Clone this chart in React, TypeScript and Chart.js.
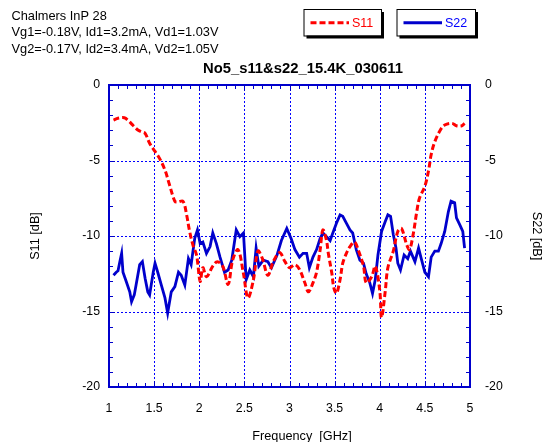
import React, { useEffect, useRef } from "react";
import { Chart, registerables } from "chart.js";

Chart.register(...registerables);

const s11Freq = [
  1.05, 1.1, 1.17, 1.22, 1.27, 1.32, 1.36, 1.4, 1.45, 1.51, 1.56, 1.62, 1.67, 1.73, 1.76, 1.82, 1.86, 1.89,
  1.93, 1.97, 2.01, 2.04, 2.08, 2.15, 2.2, 2.26, 2.32, 2.37, 2.43, 2.49, 2.54, 2.6, 2.65, 2.7, 2.76, 2.82,
  2.89, 2.95, 3.0, 3.06, 3.11, 3.17, 3.21, 3.26, 3.3, 3.34, 3.37, 3.41, 3.43, 3.47, 3.49, 3.52, 3.56, 3.59,
  3.63, 3.67, 3.72, 3.76, 3.82, 3.85, 3.91, 3.95, 4.0, 4.02, 4.06, 4.09, 4.15, 4.2, 4.24, 4.3, 4.33, 4.37,
  4.41, 4.44, 4.5, 4.54, 4.57, 4.61, 4.67, 4.72, 4.8, 4.85, 4.91, 4.94,
];
const s11Db = [
  -2.32, -2.2, -2.17, -2.4, -2.7, -2.98, -3.1, -3.2, -3.86, -4.4, -4.86, -5.63, -6.6, -7.7, -7.75, -7.7, -8.6, -9.6,
  -10.6, -11.26, -13.0, -12.1, -12.7, -12.0, -11.7, -12.0, -13.2, -11.6, -10.9, -12.5, -14.1, -12.9, -11.0, -11.5, -12.6, -11.7,
  -11.1, -11.7, -12.1, -11.9, -12.2, -13.1, -13.7, -13.1, -12.4, -10.9, -9.6, -10.3, -11.15, -12.5, -13.4, -13.8, -12.9, -11.8,
  -11.15, -10.7, -10.4, -10.9, -12.0, -13.1, -12.7, -12.0, -13.6, -15.4, -13.7, -12.1, -11.0, -9.7, -9.5, -10.6, -10.9, -9.9,
  -8.4, -7.5, -6.7, -5.7, -4.6, -3.75, -3.0, -2.65, -2.54, -2.7, -2.7, -2.54,
];

const s22Freq = [
  1.05, 1.08, 1.1, 1.12, 1.14, 1.155, 1.19, 1.23, 1.25, 1.28, 1.3, 1.34, 1.37, 1.4, 1.43, 1.45, 1.49, 1.51,
  1.54, 1.58, 1.62, 1.65, 1.69, 1.73, 1.77, 1.8, 1.84, 1.88, 1.91, 1.95, 1.98, 2.01, 2.04, 2.08, 2.12, 2.15,
  2.19, 2.23, 2.28, 2.32, 2.36, 2.41, 2.45, 2.49, 2.52, 2.56, 2.6, 2.63, 2.66, 2.71, 2.76, 2.8, 2.86, 2.91,
  2.97, 3.02, 3.06, 3.11, 3.15, 3.19, 3.22, 3.26, 3.3, 3.34, 3.37, 3.41, 3.45, 3.48, 3.52, 3.56, 3.59, 3.63,
  3.67, 3.7, 3.74, 3.78, 3.82, 3.85, 3.89, 3.92, 3.95, 3.98, 4.02, 4.06, 4.09, 4.12, 4.15, 4.18, 4.2, 4.23,
  4.27, 4.31, 4.34, 4.39, 4.43, 4.46, 4.5, 4.54, 4.57, 4.61, 4.65, 4.68, 4.72, 4.76, 4.79, 4.83, 4.85, 4.89,
  4.92, 4.94,
];
const s22Db = [
  -12.6, -12.4, -12.3, -11.7, -11.15, -12.4, -13.0, -13.7, -14.35, -13.9, -13.25, -11.9, -11.7, -12.8, -13.7, -13.9, -12.4, -11.8,
  -12.4, -13.25, -14.1, -15.1, -13.7, -13.35, -12.4, -12.6, -13.25, -11.5, -11.9, -10.15, -9.6, -10.5, -10.4, -11.15, -10.7, -9.8,
  -10.5, -11.4, -12.4, -12.25, -11.6, -9.6, -10.05, -9.8, -12.9, -12.25, -12.7, -10.8, -12.0, -11.6, -11.7, -12.1, -11.3, -10.3,
  -9.5, -10.2, -10.9, -11.4, -11.15, -11.15, -12.1, -11.4, -10.9, -10.15, -9.8, -10.05, -10.3, -9.8, -9.15, -8.6, -8.7, -9.15,
  -9.6, -9.8, -10.9, -11.6, -11.8, -12.5, -13.1, -13.8, -12.9, -11.26, -9.7, -9.05, -8.6, -8.7, -9.9, -10.8, -11.8, -12.25,
  -11.26, -11.5, -11.0, -11.7, -10.8, -11.5, -12.4, -12.7, -11.4, -11.0, -11.0, -10.5, -9.7, -8.4, -7.7, -7.8, -8.8, -9.3,
  -9.7, -10.8,
];

const xGridValues = [1.5, 2, 2.5, 3, 3.5, 4, 4.5];
const yGridValues = [-5, -10, -15];
const headerLines = [
  "Chalmers InP 28",
  "Vg1=-0.18V, Id1=3.2mA, Vd1=1.03V",
  "Vg2=-0.17V, Id2=3.4mA, Vd2=1.05V",
];
const chartTitle = "No5_s11&s22_15.4K_030611";
const xTitle = "Frequency  [GHz]";
const yTitle = "S11 [dB]";
const y2Title = "S22 [dB]";
const seriesNames = ["S11", "S22"];

const FONT = "'Liberation Sans', Arial, sans-serif";
const AXIS_BLUE = "#0000cc";
const GRID_BLUE = "#0000ff";

const decorPlugin = {
  id: "decor",
  beforeDatasetsDraw(chart: any) {
    const { ctx, chartArea: a, scales } = chart;
    const xs = scales.x;
    const ys = scales.y;
    ctx.save();
    ctx.strokeStyle = GRID_BLUE;
    ctx.lineWidth = 1;
    ctx.setLineDash([2, 2]);
    for (const v of xGridValues) {
      const px = Math.round(xs.getPixelForValue(v)) + 0.5;
      ctx.beginPath();
      ctx.moveTo(px, a.top);
      ctx.lineTo(px, a.bottom);
      ctx.stroke();
    }
    for (const v of yGridValues) {
      const py = Math.round(ys.getPixelForValue(v)) + 0.5;
      ctx.beginPath();
      ctx.moveTo(a.left, py);
      ctx.lineTo(a.right, py);
      ctx.stroke();
    }
    ctx.restore();
  },
  afterDraw(chart: any) {
    const { ctx, chartArea: a, scales } = chart;
    const xs = scales.x;
    const ys = scales.y;
    ctx.save();
    // frame
    ctx.strokeStyle = AXIS_BLUE;
    ctx.lineWidth = 2;
    ctx.setLineDash([]);
    ctx.strokeRect(a.left, a.top, a.right - a.left, a.bottom - a.top);
    // minor ticks
    ctx.lineWidth = 1;
    for (let i = 0; i <= 40; i++) {
      const v = 1 + i * 0.1;
      const px = Math.round(xs.getPixelForValue(v)) + 0.5;
      const len = i % 5 === 0 ? 6 : 4;
      ctx.beginPath();
      ctx.moveTo(px, a.bottom);
      ctx.lineTo(px, a.bottom - len);
      ctx.moveTo(px, a.top);
      ctx.lineTo(px, a.top + len);
      ctx.stroke();
    }
    for (let i = 0; i <= 20; i++) {
      const v = -i;
      const py = Math.round(ys.getPixelForValue(v)) + 0.5;
      const len = i % 5 === 0 ? 6 : 4;
      ctx.beginPath();
      ctx.moveTo(a.left, py);
      ctx.lineTo(a.left + len, py);
      ctx.moveTo(a.right, py);
      ctx.lineTo(a.right - len, py);
      ctx.stroke();
    }

    // header text
    ctx.fillStyle = "#000";
    ctx.font = `12.8px ${FONT}`;
    ctx.textAlign = "left";
    ctx.textBaseline = "middle";
    headerLines.forEach((t, i) => ctx.fillText(t, 11.5, 16 + i * 16.5));

    // title
    ctx.font = `bold 14.8px ${FONT}`;
    ctx.textAlign = "center";
    ctx.fillText(chartTitle, 303, 69);

    // axis titles
    ctx.font = `12.7px ${FONT}`;
    ctx.fillText(xTitle, 302, 436);
    const midY = (a.top + a.bottom) / 2;
    ctx.save();
    ctx.translate(35, midY);
    ctx.rotate(-Math.PI / 2);
    ctx.fillText(yTitle, 0, 0);
    ctx.restore();
    ctx.save();
    ctx.translate(536.5, midY);
    ctx.rotate(Math.PI / 2);
    ctx.fillText(y2Title, 0, 0);
    ctx.restore();

    // legend boxes
    const boxes = [
      { x: 303.5, y: 9, w: 77.5, h: 26.5 },
      { x: 396.5, y: 9, w: 78.5, h: 26.5 },
    ];
    chart.data.datasets.forEach((ds: any, i: number) => {
      const b = boxes[i];
      ctx.fillStyle = "#000";
      ctx.fillRect(b.x + 3, b.y + 3, b.w, b.h);
      ctx.fillStyle = "#fff";
      ctx.fillRect(b.x, b.y, b.w, b.h);
      ctx.strokeStyle = "#000";
      ctx.lineWidth = 1;
      ctx.setLineDash([]);
      ctx.strokeRect(b.x + 0.5, b.y + 0.5, b.w, b.h);
      const ly = b.y + b.h / 2 + 0.5;
      ctx.strokeStyle = ds.borderColor;
      ctx.lineWidth = 3;
      ctx.setLineDash(ds.borderDash || []);
      ctx.beginPath();
      ctx.moveTo(b.x + 7, ly);
      ctx.lineTo(b.x + 45.5, ly);
      ctx.stroke();
      ctx.setLineDash([]);
      ctx.fillStyle = ds.legendTextColor;
      ctx.font = `12.5px ${FONT}`;
      ctx.textAlign = "left";
      ctx.textBaseline = "middle";
      ctx.fillText(ds.label, b.x + 48.5, ly + 0.5);
    });
    ctx.restore();
  },
};

export default function App() {
  const canvasRef = useRef<HTMLCanvasElement | null>(null);

  useEffect(() => {
    document.body.style.margin = "0";
    const canvas = canvasRef.current;
    if (!canvas) return;
    const tickFont = { family: FONT, size: 12.3 };
    const fmt = (v: any) => String(Number(v));
    const chart = new Chart(canvas, {
      type: "line",
      data: {
        datasets: [
          {
            label: seriesNames[0],
            data: s11Freq.map((f, i) => ({ x: f, y: s11Db[i] })),
            borderColor: "#ff0000",
            borderWidth: 3,
            borderDash: [6, 3],
            pointRadius: 0,
            tension: 0.35,
            fill: false,
            legendTextColor: "#ff0000",
          } as any,
          {
            label: seriesNames[1],
            data: s22Freq.map((f, i) => ({ x: f, y: s22Db[i] })),
            borderColor: "#0000cc",
            borderWidth: 2.8,
            pointRadius: 0,
            tension: 0,
            fill: false,
            legendTextColor: "#0000ff",
          } as any,
        ],
      },
      options: {
        responsive: false,
        animation: false,
        layout: { padding: { top: 85, left: 0, right: 0, bottom: 0 } },
        plugins: { legend: { display: false }, title: { display: false }, tooltip: { enabled: false } },
        scales: {
          x: {
            type: "linear",
            min: 1,
            max: 5,
            grid: { display: false, drawTicks: false },
            border: { display: false },
            ticks: { stepSize: 0.5, color: "#000", font: tickFont, padding: 14, maxRotation: 0, autoSkip: false, callback: fmt },
            afterFit: (s: any) => {
              s.height = 55;
            },
          },
          y: {
            type: "linear",
            position: "left",
            min: -20,
            max: 0,
            grid: { display: false, drawTicks: false },
            border: { display: false },
            ticks: { stepSize: 5, color: "#000", font: tickFont, padding: 9, callback: fmt },
            afterFit: (s: any) => {
              s.width = 109;
            },
          },
          y2: {
            type: "linear",
            position: "right",
            min: -20,
            max: 0,
            grid: { display: false, drawTicks: false },
            border: { display: false },
            ticks: { stepSize: 5, color: "#000", font: tickFont, padding: 15, callback: fmt },
            afterFit: (s: any) => {
              s.width = 80;
            },
          },
        },
      } as any,
      plugins: [decorPlugin],
    });
    return () => chart.destroy();
  }, []);

  return (
    <div style={{ width: 550, height: 442, position: "relative" }}>
      <canvas ref={canvasRef} width={550} height={442} style={{ display: "block" }} />
    </div>
  );
}
